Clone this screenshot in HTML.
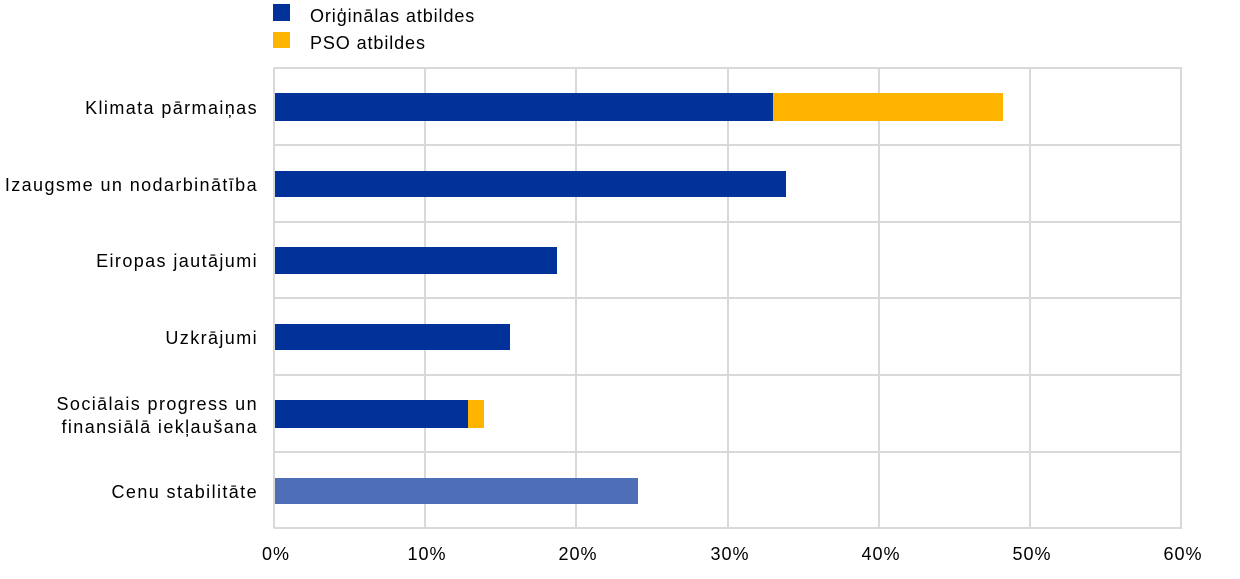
<!DOCTYPE html>
<html><head><meta charset="utf-8"><style>
html,body{margin:0;padding:0;background:#fff;}
text{font-family:"Liberation Sans",sans-serif;fill:#000;}
</style></head><body>
<svg width="1240" height="574" xmlns="http://www.w3.org/2000/svg">
<rect x="273" y="4" width="17" height="17" fill="#003299"/>
<text x="310" y="22" font-size="18" letter-spacing="0.9">Oriģinālas atbildes</text>
<rect x="273" y="32" width="17" height="16" fill="#FFB400"/>
<text x="310" y="49" font-size="18" letter-spacing="0.9">PSO atbildes</text>
<g stroke="#d9d9d9" stroke-width="2">
<line x1="274" y1="68" x2="1182" y2="68"/>
<line x1="274" y1="145" x2="1182" y2="145"/>
<line x1="274" y1="222" x2="1182" y2="222"/>
<line x1="274" y1="298" x2="1182" y2="298"/>
<line x1="274" y1="375" x2="1182" y2="375"/>
<line x1="274" y1="452" x2="1182" y2="452"/>
<line x1="274" y1="528" x2="1182" y2="528"/>
<line x1="274" y1="68" x2="274" y2="528"/>
<line x1="425" y1="68" x2="425" y2="528"/>
<line x1="576" y1="68" x2="576" y2="528"/>
<line x1="728" y1="68" x2="728" y2="528"/>
<line x1="879" y1="68" x2="879" y2="528"/>
<line x1="1030" y1="68" x2="1030" y2="528"/>
<line x1="1181" y1="68" x2="1181" y2="528"/>
</g>
<rect x="275" y="93" width="498" height="28" fill="#003299"/>
<rect x="773" y="93" width="230" height="28" fill="#FFB400"/>
<rect x="275" y="171" width="511" height="26" fill="#003299"/>
<rect x="275" y="247" width="282" height="27" fill="#003299"/>
<rect x="275" y="324" width="235" height="26" fill="#003299"/>
<rect x="275" y="400" width="193" height="28" fill="#003299"/>
<rect x="468" y="400" width="16" height="28" fill="#FFB400"/>
<rect x="275" y="478" width="363" height="26" fill="#4E6FB8"/>
<g font-size="18" text-anchor="end" letter-spacing="1.4">
<text x="258" y="114">Klimata pārmaiņas</text>
<text x="258" y="191">Izaugsme un nodarbinātība</text>
<text x="258" y="267">Eiropas jautājumi</text>
<text x="258" y="344">Uzkrājumi</text>
<text x="258" y="410">Sociālais progress un</text>
<text x="258" y="433">finansiālā iekļaušana</text>
<text x="258" y="498">Cenu stabilitāte</text>
</g>
<g font-size="18" text-anchor="middle" letter-spacing="1">
<text x="276" y="560">0%</text>
<text x="427" y="560">10%</text>
<text x="578" y="560">20%</text>
<text x="730" y="560">30%</text>
<text x="881" y="560">40%</text>
<text x="1032" y="560">50%</text>
<text x="1183" y="560">60%</text>
</g>
</svg>
</body></html>
